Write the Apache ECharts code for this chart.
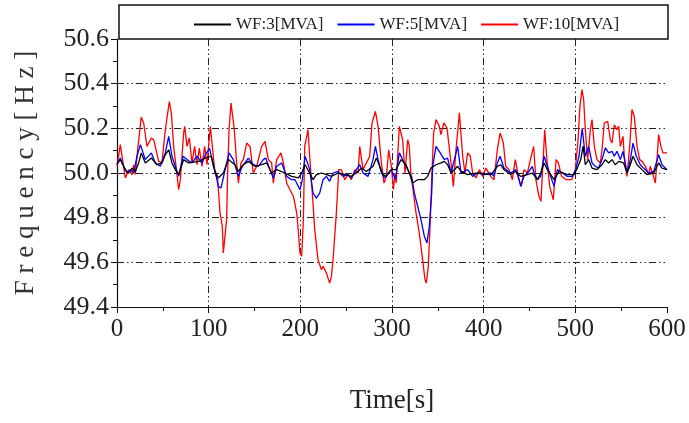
<!DOCTYPE html>
<html>
<head>
<meta charset="utf-8">
<script src="https://cdn.jsdelivr.net/npm/echarts@6/dist/echarts.min.js"></script>
<style>html,body{margin:0;padding:0;background:#fff}#c{width:689px;height:423px}</style>
</head>
<body>
<div id="c"></div>
<script>
var seriesNames = ['WF:3[MVA]', 'WF:5[MVA]', 'WF:10[MVA]'];
var xTicks = [0, 100, 200, 300, 400, 500, 600];
var yTicks = [49.4, 49.6, 49.8, 50.0, 50.2, 50.4, 50.6];

var wf3Time = [0,3.6,9.1,12.7,16.4,20,23.6,26.5,30.9,37.5,43.6,49.1,52.7,56.4,60,63.6,67.3,72.7,78.2,89.1,96.4,102.9,106.9,110.5,116,121.5,128.7,132.4,137.8,143.3,150.5,157.8,163.3,168.7,174.2,183.3,190.5,197.8,201.5,205.1,210.2,213.9,217.5,223,228.4,233.9,241.1,248.4,255.7,263,266.6,272,279.3,283,286.6,290.2,293.9,299.3,304.4,309.8,315.3,318.9,322.5,328,335.3,338.9,342.5,348,353.4,357.1,360.7,364.4,371.6,375.3,382.5,393.4,408,414.9,418.6,422.2,429.5,435,440.4,447.7,453.1,458.6,462.2,465.9,469.5,473.1,476.8,482.2,491.3,498.6,502.2,505.9,508.5,510.9,514.5,518.2,523.6,529.1,532.7,536.4,540,543.6,547.3,552.7,556.4,560,562.9,567.3,572.7,578.2,585.5,590.9,594.5,600];
var wf3Freq = [50.04,50.06,50.015,50.0,50.022,50.007,50.045,50.09,50.045,50.067,50.037,50.045,50.082,50.104,50.045,50.015,49.993,50.06,50.045,50.052,50.067,50.075,50.007,49.978,50.0,50.06,50.037,50.007,50.037,50.052,50.03,50.037,50.045,50.0,50.015,50.0,49.985,49.978,50.0,50.037,50.0,49.97,49.993,50.0,49.993,49.985,50.0,49.993,49.985,50.007,50.022,50.007,50.03,50.067,50.03,49.993,49.985,50.015,50.015,50.06,50.037,50.0,49.955,49.97,49.97,49.985,50.022,50.037,50.045,50.052,50.037,50.0,50.03,50.007,49.993,50.0,49.993,50.03,50.037,50.015,49.993,50.007,49.985,49.993,50.0,49.97,50.0,50.045,50.015,49.993,49.97,50.007,49.993,49.993,50.022,50.06,50.12,50.037,50.06,50.022,50.015,50.037,50.06,50.045,50.06,50.037,50.052,50.045,50.0,50.037,50.075,50.037,50.015,49.993,50.0,50.045,50.022,50.015];

var wf5Time = [0,3.6,7.3,10.9,14.5,18.2,21.8,25.5,30.9,37.5,41.8,47.3,52.7,56.4,60,63.6,67.3,72,76.4,81.8,87.3,92.7,96.4,101,105.1,107.6,110.5,113.5,117.1,122.2,126.9,132.4,136.7,143.3,148.7,154.2,159.6,162.2,166.9,170.5,174.2,179.6,185.1,190.5,194.2,199.6,202.2,205.1,206.6,210.2,213.9,217.5,221.1,224.8,228.4,232,235.7,241.1,246.6,252,255.7,261.1,264.8,268.4,273.9,279.3,281.9,284.8,288.4,292,295.7,299.3,303.7,308,311.6,315.3,318.9,321.4,324.4,328,331.6,335.3,338.2,340.7,343.3,344.4,348,351.6,357.1,360.7,364.4,371.6,375.3,382.5,388,393.4,400.7,407.7,411.3,414.9,417.9,422.2,429.5,435,438.6,440.4,444,449.5,453.1,455,458.6,462.2,465.9,469.5,473.1,476.8,480.4,485.9,491.3,496.8,500.4,504,507.5,510.9,514.5,518.2,521.8,525.4,529.1,532.7,536.4,540,542.5,545.4,549.1,552,556.4,560,562.9,566.5,570.9,574.5,580,585.5,590.9,594.5,600];
var wf5Freq = [50.04,50.067,50.03,50.0,50.015,50.0,50.075,50.127,50.06,50.09,50.045,50.03,50.09,50.164,50.075,50.03,49.985,50.075,50.06,50.045,50.075,50.045,50.082,50.11,50.03,50.0,49.94,49.933,50.0,50.09,50.06,49.985,50.03,50.067,50.037,50.03,50.06,50.067,50.015,49.978,50.03,50.045,49.985,49.97,49.97,49.925,49.97,50.075,50.06,50.015,49.91,49.888,49.91,49.97,49.985,49.963,50.0,50.007,49.985,49.993,49.978,50.015,50.037,50.0,49.985,50.06,50.119,50.06,50.0,49.978,50.0,50.015,49.97,50.09,50.06,50.03,50.0,49.985,49.91,49.851,49.791,49.716,49.687,49.761,49.91,50.03,50.119,50.097,50.06,50.067,50.0,50.119,50.0,50.015,49.985,50.0,49.993,50.0,49.985,50.045,50.075,50.022,50.0,50.015,49.97,49.94,49.985,50.007,50.03,50.0,49.97,49.985,50.075,50.03,49.985,49.94,50.015,50.0,49.985,49.985,50.015,50.075,50.2,50.075,50.119,50.045,50.03,50.022,50.06,50.112,50.09,50.097,50.075,50.097,50.06,50.097,50.0,50.06,50.134,50.075,50.037,50.022,50.0,50.007,50.082,50.037,50.015];

var wf10Time = [0,3.6,9.1,12.7,16.4,18.2,20,22.9,26.5,29.1,32.7,37.5,40,45.5,49,52.7,57.1,59.3,61.8,64.4,67.3,69.1,72.7,73.8,76.4,78.9,81.8,84.7,87.3,89.8,92.7,95.6,98.2,101.8,104,106.9,109.8,112.4,114.9,116,117.8,119.6,120.7,122.2,124.4,125.8,128,130.5,132.4,135.3,137.8,141.5,145.1,148.7,152.4,157.8,161.5,165.1,168.7,170.5,174.2,178.9,181.5,185.1,188.7,192.4,196,197.1,199.6,201.5,203.3,204.8,208.4,210.2,212.8,215.7,219.3,223,224.8,228.4,232,233.9,235.7,239.3,241.9,244.8,248.4,252,255.7,259.3,263,264.8,268.4,275.7,278.2,281.9,284.8,288.4,291.3,293.9,296.4,299.3,301.5,303.3,304.6,308,311.6,314.2,317.1,318.9,320.7,322.5,326.2,329.8,333.4,336,337.4,339.6,341.8,343.3,345.4,348,351.6,353.4,356.4,360,364.4,366.9,369.8,373.5,377.1,379.6,382.5,385.4,388,391.6,395.3,398.9,402.5,407.7,411.3,414.9,417.9,421.5,424,427.7,431.3,434.5,438.6,441.1,444,447.7,451,454.5,457,460,462.5,464.5,466.6,469,472,476,479,481.5,485,490,496,500,503,505,507.3,509.1,510.9,513.4,516.4,518.2,520.7,523.6,527.3,529.1,531.6,535.3,538.2,540,542.5,545.4,547.3,549.1,552,553.4,556.4,559.3,561.8,564.3,567.3,570.2,572.7,576.4,580,581.8,584.7,587.3,589.1,590.9,593.4,595.6,600];
var wf10Freq = [50.03,50.127,49.978,50.015,49.993,50.037,49.993,50.119,50.25,50.224,50.119,50.157,50.149,50.052,50.045,50.194,50.32,50.269,50.119,50.03,49.925,49.97,50.179,50.209,50.119,50.157,50.045,50.119,50.037,50.112,50.03,50.119,50.037,50.209,50.119,50.0,49.97,49.821,49.761,49.642,49.642,49.791,50.0,50.194,50.313,50.306,50.194,50.045,49.955,50.045,50.06,50.134,50.119,50.0,50.03,50.119,50.142,50.06,50.045,49.955,50.06,50.09,50.045,49.955,49.925,49.896,49.821,49.776,49.642,49.627,49.791,50.119,50.194,50.075,49.925,49.746,49.612,49.567,49.582,49.552,49.507,49.537,49.612,49.821,50.015,50.015,49.97,49.993,49.97,50.015,50.0,50.119,50.015,50.075,50.224,50.276,50.209,50.045,49.955,49.985,50.104,50.03,49.925,50.0,49.955,50.209,50.149,50.0,50.149,50.119,49.985,49.94,49.821,49.731,49.612,49.522,49.507,49.582,49.791,49.97,50.179,50.239,50.209,50.172,50.224,50.201,50.045,49.94,50.104,50.269,50.075,50.0,50.09,50.075,50.0,49.978,50.015,49.985,50.022,49.985,49.97,50.104,50.179,50.134,50.03,50.015,49.97,50.06,49.97,49.94,50.015,50.0,50.06,50.119,49.97,49.9,49.873,49.88,50.194,50.06,49.94,49.88,50.06,50.045,49.985,49.97,49.97,50.015,50.15,50.3,50.373,50.328,50.194,50.06,50.194,50.239,50.119,50.06,50.045,50.104,50.224,50.231,50.149,50.134,50.216,50.194,50.209,50.119,50.164,50.075,49.985,50.119,50.284,50.254,50.119,50.06,50.052,50.03,49.993,50.03,49.993,49.955,50.06,50.172,50.119,50.09,50.09];

function zip(t, v) { return t.map(function (x, i) { return [x, v[i]]; }); }

var serif = '"Liberation Serif", "DejaVu Serif", serif';
var chart = echarts.init(document.getElementById('c'), null, { renderer: 'canvas' });
var gridLine = { show: true, showMinLine: false, showMaxLine: false,
  lineStyle: { color: '#222', width: 1, type: [7, 3, 1.5, 3, 1.5, 3] } };

chart.setOption({
  animation: false,
  backgroundColor: '#fff',
  grid: { left: 117, right: 22, top: 39, bottom: 116 },
  graphic: [{
    type: 'rect', shape: { x: 119, y: 5, width: 549, height: 34 },
    style: { fill: 'none', stroke: '#111', lineWidth: 1.5 }, z: 1, silent: true
  }],
  legend: {
    show: true, z: 20,
    data: seriesNames, left: 189, top: 11, itemWidth: 37, itemHeight: 2, itemGap: 14,
    icon: 'rect',
    textStyle: { fontFamily: serif, fontSize: 17, color: '#222' }
  },
  xAxis: {
    type: 'value', min: 0, max: 600, interval: 100,
    name: 'Time[s]', nameLocation: 'middle', nameGap: 80,
    nameTextStyle: { fontFamily: serif, fontSize: 27, color: '#222' },
    axisLine: { show: true, onZero: false, lineStyle: { color: '#111', width: 1.2 } },
    axisTick: { show: true, length: 6, lineStyle: { color: '#111' } },
    minorTick: { show: true, splitNumber: 2, length: 4, lineStyle: { color: '#111' } },
    axisLabel: { fontFamily: serif, fontSize: 25, color: '#222', margin: 10 },
    splitLine: gridLine
  },
  yAxis: {
    type: 'value', min: 49.4, max: 50.6, interval: 0.2,
    name: 'F r e q u e n c y [ H z ]', nameLocation: 'middle', nameGap: 78, nameRotate: 90,
    nameTextStyle: { fontFamily: serif, fontSize: 27, color: '#333' },
    axisLine: { show: true, onZero: false, lineStyle: { color: '#111', width: 1.2 } },
    axisTick: { show: true, length: 6, lineStyle: { color: '#111' } },
    minorTick: { show: true, splitNumber: 2, length: 4, lineStyle: { color: '#111' } },
    axisLabel: { fontFamily: serif, fontSize: 26, color: '#222', margin: 8,
      formatter: function (v) { return v.toFixed(1); } },
    splitLine: gridLine
  },
  series: [
    { name: seriesNames[0], type: 'line', data: zip(wf3Time, wf3Freq), showSymbol: false, z: 4,
      lineStyle: { color: '#000', width: 1.3 }, itemStyle: { color: '#000' } },
    { name: seriesNames[1], type: 'line', data: zip(wf5Time, wf5Freq), showSymbol: false, z: 3,
      lineStyle: { color: '#0000ff', width: 1.3 }, itemStyle: { color: '#0000ff' } },
    { name: seriesNames[2], type: 'line', data: zip(wf10Time, wf10Freq), showSymbol: false, z: 2,
      lineStyle: { color: '#ff0000', width: 1.3 }, itemStyle: { color: '#ff0000' } }
  ]
});
</script>
</body>
</html>
